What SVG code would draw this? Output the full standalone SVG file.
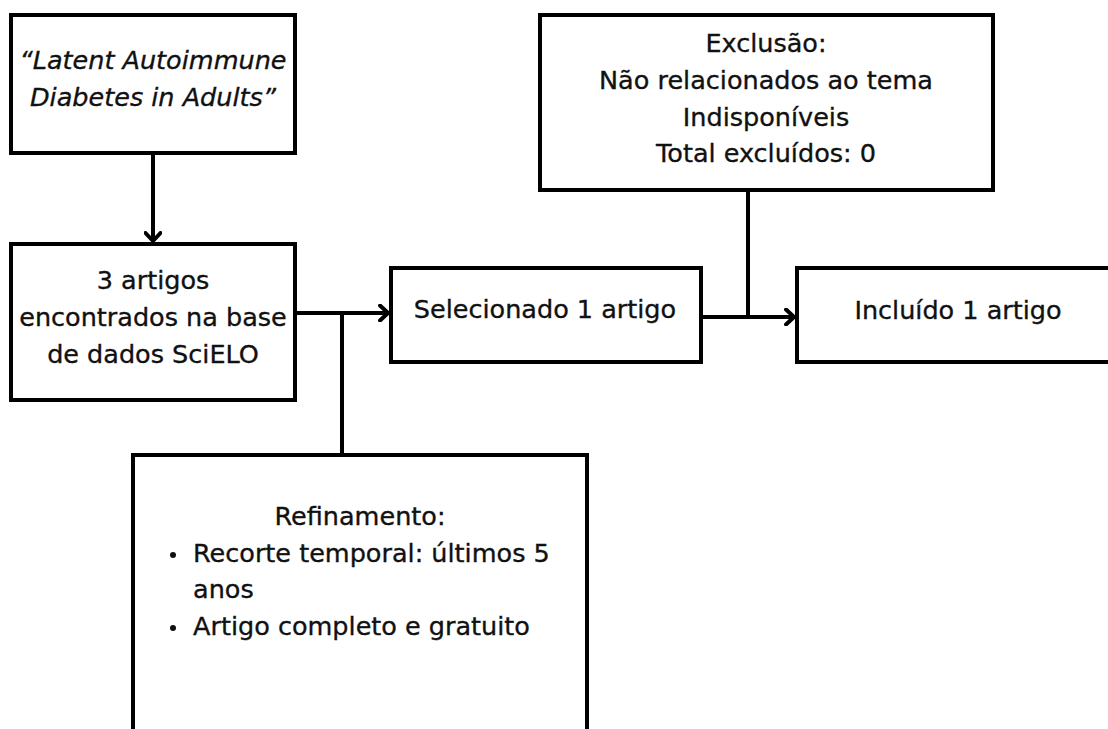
<svg xmlns="http://www.w3.org/2000/svg" width="1108" height="729" viewBox="0 0 1108 729">
<style>
.box{fill:#fff;stroke:#000;stroke-width:4}
.t{font-family:"DejaVu Sans",sans-serif;font-size:25.5px;fill:#111;stroke:#111;stroke-width:0.35;text-anchor:middle}
.l{text-anchor:start}
.i{font-style:italic}
.c{fill:none;stroke:#000;stroke-width:4}
</style>
<defs>
<marker id="arr" viewBox="0 0 12 18" refX="10" refY="9" markerWidth="12" markerHeight="18" markerUnits="userSpaceOnUse" orient="auto">
<path d="M2,1.5 L10,9 L2,16.5" fill="none" stroke="#000" stroke-width="4" stroke-linecap="round" stroke-linejoin="round"/>
</marker>
</defs>
<rect width="1108" height="729" fill="#fff"/>
<g id="n-query">
<rect class="box" x="11" y="15" width="284" height="138"/>
<text class="t i" x="153" y="69">“Latent Autoimmune</text>
<text class="t i" x="153" y="106">Diabetes in Adults”</text>
</g>
<g id="n-found">
<rect class="box" x="11" y="244" width="284" height="156"/>
<text class="t" x="153" y="289">3 artigos</text>
<text class="t" x="153" y="326">encontrados na base</text>
<text class="t" x="153" y="363">de dados SciELO</text>
</g>
<g id="n-selected">
<rect class="box" x="391" y="268" width="310" height="94"/>
<text class="t" x="545" y="318">Selecionado 1 artigo</text>
</g>
<g id="n-exclusion">
<rect class="box" x="540" y="15" width="453" height="175"/>
<text class="t" x="766" y="52">Exclusão:</text>
<text class="t" x="766" y="89">Não relacionados ao tema</text>
<text class="t" x="766" y="126">Indisponíveis</text>
<text class="t" x="766" y="162">Total excluídos: 0</text>
</g>
<g id="n-included">
<rect class="box" x="797" y="268" width="330" height="94"/>
<text class="t" x="958" y="319">Incluído 1 artigo</text>
</g>
<g id="n-refinement">
<rect class="box" x="133" y="455" width="454" height="300"/>
<text class="t" x="360" y="525">Refinamento:</text>
<circle cx="173" cy="555" r="3" fill="#111"/>
<text class="t l" x="193" y="562">Recorte temporal: últimos 5</text>
<text class="t l" x="193" y="598">anos</text>
<circle cx="173" cy="628" r="3" fill="#111"/>
<text class="t l" x="193" y="635">Artigo completo e gratuito</text>
</g>
<g id="connectors">
<line class="c" x1="153" y1="153" x2="153" y2="241" marker-end="url(#arr)"/>
<line class="c" x1="295" y1="313" x2="388" y2="313" marker-end="url(#arr)"/>
<line class="c" x1="342" y1="313" x2="342" y2="455"/>
<line class="c" x1="701" y1="317" x2="794" y2="317" marker-end="url(#arr)"/>
<line class="c" x1="748" y1="190" x2="748" y2="317"/>
</g>
</svg>
